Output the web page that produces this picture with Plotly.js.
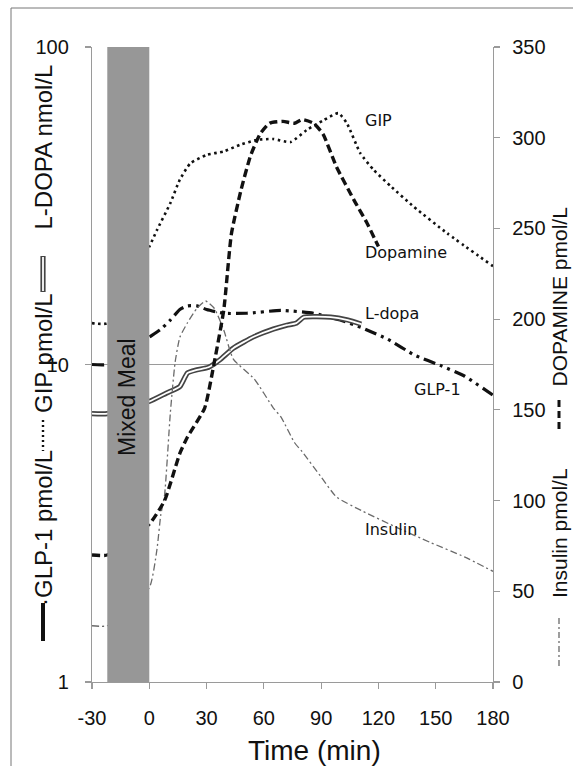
<!DOCTYPE html>
<html>
<head>
<meta charset="utf-8">
<script src="https://cdn.plot.ly/plotly-3.0.1.min.js"></script>
<style>html,body{margin:0;padding:0;background:#fff;}#chart{width:573px;height:766px;}</style>
</head>
<body>
<div id="chart"></div>
<script>
// ---- data ----
const xTicks = [-30, 0, 30, 60, 90, 120, 150, 180];
const xTickText = ['-30', '0', '30', '60', '90', '120', '150', '180'];
const leftTicks = [1, 10, 100];
const mealStart = -22, mealEnd = 0;

const gipT = [-30,-22,0,4,11,16,21.5,30,39,47.5,56.5,65,74,82.5,91.5,99,103.5,110.5,117.5,126.5,138.5,156,180];
const gipV = [13.5,13.5,23.5,26.5,32.2,38.2,43,45.7,46.9,49.2,51,51.3,50.2,54.8,58.9,61.9,57.5,46.3,41,36.4,31.4,25.9,20.4];

const dopT = [-30,-22,0,8,16,20,29,34,39,43,48,53,58,63,70,76,80,86,91,98,107,114,120];
const dopV = [70,70,87,100,126,135,151,176,205,247,271,290,302,308,309,308,310,308,302,284,266,253,240];

const ldT = [-30,-22,0,9,16,20,25,31,37,44,55,65,72,77,81,95,104,111];
const ldV = [7.0,7.0,7.65,8.13,8.52,9.4,9.62,9.8,10.35,11.26,12.25,12.93,13.3,13.5,14.1,14.1,13.8,13.4];

const glpT = [-30,-22,0,6,11,16,20,25,30,39,51,69,86,100,112,125,139,153,165,180];
const glpV = [10,10,12.2,12.9,13.8,14.9,15.3,15.3,14.9,14.5,14.5,14.8,14.5,13.8,13.0,12.0,10.7,9.9,9.2,8.0];

const insT = [-30,-22,0,4,6,8,11,13.5,16,20,25,29.5,34,39,44,55,65,69,76,80,90,98,112,130,147,165,180];
const insV = [31,31,52,73,92,103,148,176,190,198,206,210,206,194,178,167,151,146,132,127,113,102,94,85,77,69,61];

// ---- helpers for paper coords from pixel positions ----
const L = 92, R = 80, T = 47, B = 84, W = 573, H = 766;
const pw = W - L - R, ph = H - T - B;
const xp = px => (px - L) / pw;
const yp = py => (H - B - py) / ph;

const FONT = '"Liberation Sans", Arial, sans-serif';
const INK = '#111';

const traces = [
  {x: insT, y: insV, yaxis: 'y2', mode: 'lines', name: 'Insulin',
   line: {color: '#6a6a6a', width: 1.3, dash: '7px,3px,2px,3px', shape: 'spline', smoothing: 0.5}},
  {x: gipT, y: gipV, mode: 'lines', name: 'GIP',
   line: {color: INK, width: 2.6, dash: '2.5px,3.5px', shape: 'spline', smoothing: 0.5}},
  {x: glpT, y: glpV, mode: 'lines', name: 'GLP-1',
   line: {color: INK, width: 3.2, dash: '12px,5px,3px,5px,3px,5px', shape: 'spline', smoothing: 0.5}},
  {x: ldT, y: ldV, mode: 'lines', name: 'L-dopa',
   line: {color: '#444', width: 5.2, shape: 'spline', smoothing: 0.5}},
  {x: ldT, y: ldV, mode: 'lines', name: 'L-dopa inner', showlegend: false, hoverinfo: 'skip',
   line: {color: '#fff', width: 1.8, shape: 'spline', smoothing: 0.5}},
  {x: dopT, y: dopV, yaxis: 'y2', mode: 'lines', name: 'Dopamine',
   line: {color: INK, width: 3.4, dash: '8px,4px', shape: 'spline', smoothing: 0.5}}
];

const axisCommon = {
  showline: true, linecolor: '#9a9a9a', linewidth: 1.2,
  ticks: 'outside', ticklen: 6, tickcolor: '#9a9a9a', tickwidth: 1.2,
  zeroline: false, tickfont: {family: FONT, size: 20, color: INK}
};

const ann = (text, x, y, opts) => Object.assign({
  text, x, y, xref: 'paper', yref: 'paper', showarrow: false,
  xanchor: 'center', yanchor: 'middle',
  font: {family: FONT, size: 24, color: INK}
}, opts || {});

const labelFont = {family: 'DejaVu Sans, sans-serif', size: 16, color: INK};
const lab = (text, x, y) => ({text, x, y, xref: 'x', yref: 'y2', xanchor: 'left', yanchor: 'middle',
  showarrow: false, font: labelFont});

const rightFont = {family: FONT, size: 21, color: INK};

const annotations = [
  lab('GIP', 112, 309.4),
  lab('Dopamine', 112, 237),
  lab('L-dopa', 112, 203.3),
  lab('GLP-1', 137.4, 161),
  lab('Insulin', 112, 84.3),
  ann('Mixed Meal', xp(127), yp(397), {textangle: -90, font: {family: FONT, size: 23, color: INK}}),
  ann('Time (min)', xp(314), yp(750), {font: {family: FONT, size: 28, color: INK}}),
  // left axis title pieces
  ann('L-DOPA nmol/L', xp(43), yp(147.5), {textangle: -90}),
  ann('GIP pmol/L', xp(43), yp(353), {textangle: -90}),
  ann('·GLP-1 pmol/L', xp(43), yp(528), {textangle: -90}),
  // right axis title pieces
  ann('DOPAMINE pmol/L', xp(559), yp(389), {textangle: -90, yanchor: 'bottom', font: rightFont}),
  ann('Insulin pmol/L', xp(559), yp(533), {textangle: -90, font: rightFont})
];

const vline = (x, y0, y1, color, width, dash) => ({type: 'line', xref: 'paper', yref: 'paper',
  x0: xp(x), x1: xp(x), y0: yp(y0), y1: yp(y1), line: {color, width, dash: dash || 'solid'}});

const shapes = [
  {type: 'rect', xref: 'x', yref: 'paper', x0: mealStart, x1: mealEnd, y0: 0, y1: 1,
   fillcolor: '#979797', line: {width: 0}, layer: 'above'},
  // figure frame
  {type: 'line', xref: 'paper', yref: 'paper', x0: xp(11), x1: xp(600), y0: yp(8), y1: yp(8),
   line: {color: '#777', width: 1}},
  {type: 'line', xref: 'paper', yref: 'paper', x0: xp(11), x1: xp(11), y0: yp(8), y1: yp(800),
   line: {color: '#777', width: 1}},
  // legend symbols in axis titles
  vline(43, 256, 292, '#444', 5.2),
  vline(43, 257, 291, '#fff', 1.8),
  vline(43, 420, 451, INK, 2.4, '2px,3px'),
  vline(43, 603, 641, INK, 4),
  vline(559, 400, 431, INK, 3, '7px,4px'),
  vline(559, 618, 668, '#6a6a6a', 1.3, '6px,3px,2px,3px')
];

const layout = {
  width: W, height: H,
  margin: {l: L, r: R, t: T, b: B, pad: 0},
  paper_bgcolor: '#fff', plot_bgcolor: '#fff',
  showlegend: false,
  xaxis: Object.assign({}, axisCommon, {range: [-30, 180], tickvals: xTicks, ticktext: xTickText,
    showgrid: false, ticklabelstandoff: 12}),
  yaxis: Object.assign({}, axisCommon, {type: 'log', range: [0, 2], tickvals: leftTicks,
    ticktext: leftTicks.map(String), showgrid: true, gridcolor: '#9a9a9a', gridwidth: 1.2,
    ticklabelstandoff: 12}),
  yaxis2: Object.assign({}, axisCommon, {overlaying: 'y', side: 'right', range: [0, 350], dtick: 50,
    showgrid: false, ticklabelstandoff: 8}),
  annotations, shapes
};

Plotly.newPlot('chart', traces, layout, {staticPlot: true, displayModeBar: false});
</script>
</body>
</html>
